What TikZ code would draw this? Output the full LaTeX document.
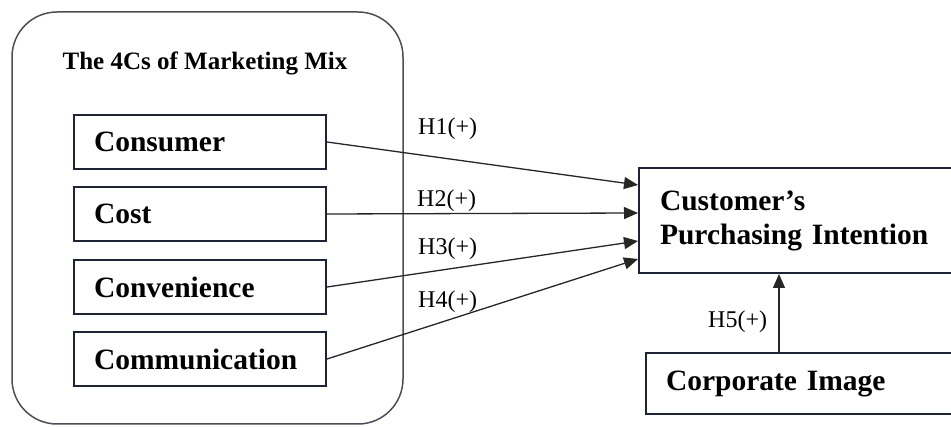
\documentclass[tikz,border=0pt]{standalone}
\usepackage{fontspec}
\setmainfont{Liberation Serif}
\usetikzlibrary{arrows.meta}
\definecolor{boxline}{HTML}{1E2433}
\definecolor{frameline}{HTML}{4A4E55}
\begin{document}
\begin{tikzpicture}
[x=1pt,y=-1pt,
frame/.style={rectangle,rounded corners=45pt,draw=frameline,line width=1.5pt,minimum width=391pt,minimum height=412pt},
factor/.style={rectangle,draw=boxline,line width=2pt,anchor=north west,minimum height=54pt,text width=212pt,inner xsep=20pt,align=left,font=\fontsize{29.5}{34}\selectfont\bfseries},
target/.style={rectangle,draw=boxline,line width=2pt,anchor=north west,minimum height=105pt,text width=300pt,inner xsep=21pt,align=left,font=\fontsize{29.5}{34}\selectfont\bfseries},
hyp/.style={anchor=base west,inner sep=0pt,font=\fontsize{24}{28}\selectfont},
arr/.style={-{Triangle[length=14pt,width=12pt]},line width=1.3pt,draw=black!85}]
\useasboundingbox (0,0) rectangle (951,427);
\node[frame] (mix) at (207.5,218) {};
\node[anchor=base,inner sep=0pt,font=\fontsize{25}{29}\selectfont\bfseries] (title) at (205,70) {The 4Cs of Marketing Mix};
\node[factor] (consumer) at (73,114) {Consumer};
\node[factor] (cost) at (73,186) {Cost};
\node[factor] (convenience) at (73,259) {Convenience};
\node[factor] (communication) at (73,331) {Communication};
\node[target] (intention) at (638,167) {Customer’s\\Purchasing Intention};
\node[factor,text width=300pt,minimum height=61pt] (image) at (645,352) {Corporate Image};
\draw[arr] (consumer.east) -- ([yshift=-18pt]intention.north west);
\draw[arr] (cost.east) -- ([yshift=-46pt]intention.north west);
\draw[arr] (convenience.east) -- ([yshift=-74pt]intention.north west);
\draw[arr] (communication.east) -- ([yshift=-92pt]intention.north west);
\draw[arr] ([xshift=134pt]image.north west) coordinate (h5start) -- (h5start |- intention.south);
\node[hyp] (h1) at (418,135) {H1(+)};
\node[hyp] (h2) at (417,207) {H2(+)};
\node[hyp] (h3) at (418,255) {H3(+)};
\node[hyp] (h4) at (418,308) {H4(+)};
\node[hyp] (h5) at (708,328) {H5(+)};
\end{tikzpicture}
\end{document}
